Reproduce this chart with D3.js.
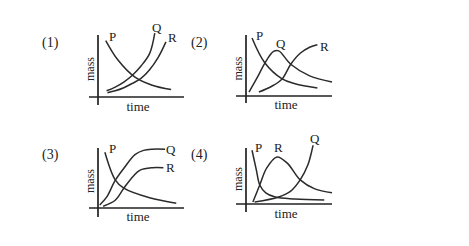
<!DOCTYPE html>
<html>
<head>
<meta charset="utf-8">
<script src="https://cdn.jsdelivr.net/npm/d3@7"></script>
<style>
  body { margin: 0; background: #fff; }
  svg text { font-family: "Liberation Serif", "DejaVu Serif", serif; fill: #222; }
</style>
</head>
<body>
<div id="chart"></div>
<script>
// Values, time (0-10) and mass (0-10) per panel
// Panel (1)
const p1P = [[0.9, 9.1], [2.3, 6.0], [4.3, 3.2], [6.3, 1.9], [8.5, 1.2]];
const p1Q = [[1.0, 1.0], [2.0, 1.6], [3.0, 2.4], [4.0, 3.5], [5.0, 5.0], [6.0, 7.0], [6.6, 10.3]];
const p1R = [[1.1, 0.7], [2.0, 1.0], [3.0, 1.5], [4.0, 2.2], [5.0, 3.0], [6.0, 4.4], [7.0, 6.4], [7.9, 8.9]];
// Panel (2)
const p2P = [[0.7, 9.5], [2.2, 5.4], [4.2, 2.8], [5.7, 2.0], [8.3, 1.3]];
const p2Q = [[0.35, 0.65], [1.3, 3.0], [2.2, 5.4], [3.2, 7.3], [3.8, 7.4], [5.2, 5.2], [7.4, 3.3], [10, 2.3]];
const p2R = [[1.5, 0.65], [3.0, 1.6], [4.2, 2.8], [5.2, 5.2], [6.3, 7.0], [7.4, 8.0], [8.3, 8.4]];
// Panel (3)
const p3P = [[0.8, 9.3], [2.0, 4.7], [3.0, 3.3], [6.0, 1.7], [9.1, 0.8]];
const p3Q = [[0.2, 0.5], [1.0, 1.8], [2.0, 4.6], [3.1, 6.8], [4.3, 8.9], [5.3, 9.6], [6.3, 9.8], [7.8, 9.8]];
const p3R = [[0.6, 0.3], [2.0, 1.3], [3.0, 3.3], [4.1, 5.3], [4.9, 6.3], [6.3, 6.7], [7.6, 6.7]];
// Panel (4)
const p4P = [[0.7, 9.6], [1.2, 6.1], [1.6, 3.4], [2.3, 2.0], [3.4, 1.25], [5.7, 0.9], [9.1, 0.7]];
const p4Q = [[1.0, 0.35], [3.8, 1.25], [5.2, 2.3], [6.3, 4.3], [7.2, 7.0], [7.8, 10.5]];
const p4R = [[0.8, 0.35], [1.6, 3.4], [2.4, 6.4], [3.6, 8.4], [4.8, 7.3], [6.3, 4.3], [8.0, 2.7], [10, 2.0]];

const panelNames = ['(1)', '(2)', '(3)', '(4)'];
const seriesNames = ['P', 'Q', 'R'];
const axisTitles = ['time', 'mass'];

// Layout: axis origin, right end of time axis, top of mass axis, bottom/left overhang
const panels = [
  { name: panelNames[0], series: [p1P, p1Q, p1R], ox: 98, oy: 97, right: 184, top: 35, left: 89, bottom: 105,
    numX: 42, numY: 47, timeY: 111, massX: 90,
    labels: [[109, 41], [152, 32], [168, 42]] },
  { name: panelNames[1], series: [p2P, p2Q, p2R], ox: 246, oy: 96, right: 332, top: 35, left: 236, bottom: 103,
    numX: 191, numY: 47, timeY: 109, massX: 238,
    labels: [[256, 40], [276, 48], [320, 51]] },
  { name: panelNames[2], series: [p3P, p3Q, p3R], ox: 98, oy: 208, right: 184, top: 148, left: 89, bottom: 217,
    numX: 42, numY: 159, timeY: 221, massX: 90,
    labels: [[109, 153], [166, 154], [166, 172]] },
  { name: panelNames[3], series: [p4P, p4Q, p4R], ox: 246, oy: 204, right: 332, top: 148, left: 236, bottom: 212,
    numX: 191, numY: 159, timeY: 218, massX: 238,
    labels: [[255, 152], [310, 143], [274, 152]] }
];

const svg = d3.select('#chart')
  .append('svg')
  .attr('width', 469)
  .attr('height', 246);

panels.forEach(p => {
  const x = d3.scaleLinear().domain([0, 10]).range([p.ox, p.right]);
  const y = d3.scaleLinear().domain([0, 10]).range([p.oy, p.top]);
  const g = svg.append('g');

  // panel number
  g.append('text')
    .attr('x', p.numX)
    .attr('y', p.numY)
    .style('font-size', '14px')
    .text(p.name);

  // axes (plain lines crossing at the origin)
  g.append('line')
    .attr('x1', p.left).attr('x2', p.right)
    .attr('y1', p.oy).attr('y2', p.oy)
    .attr('stroke', '#222').attr('stroke-width', 1.7);
  g.append('line')
    .attr('x1', p.ox).attr('x2', p.ox)
    .attr('y1', p.bottom).attr('y2', p.top)
    .attr('stroke', '#222').attr('stroke-width', 1.7);

  // axis titles
  g.append('text')
    .attr('x', (p.ox + p.right) / 2 - 3)
    .attr('y', p.timeY)
    .attr('text-anchor', 'middle')
    .style('font-size', '13px')
    .text(axisTitles[0]);
  g.append('text')
    .attr('transform', `translate(${p.massX},${(p.oy + p.top) / 2 + 3}) rotate(-90)`)
    .attr('text-anchor', 'middle')
    .attr('dominant-baseline', 'central')
    .style('font-size', '12px')
    .text(axisTitles[1]);

  // curves
  const line = d3.line()
    .x(d => x(d[0]))
    .y(d => y(d[1]))
    .curve(d3.curveCatmullRom.alpha(0.5));

  g.selectAll('path.curve')
    .data(p.series)
    .enter().append('path')
    .attr('class', 'curve')
    .attr('d', line)
    .attr('fill', 'none')
    .attr('stroke', '#2b2b2b')
    .attr('stroke-width', 1.5);

  // series labels
  g.selectAll('text.lab')
    .data(p.labels)
    .enter().append('text')
    .attr('class', 'lab')
    .attr('x', d => d[0])
    .attr('y', d => d[1])
    .style('font-size', '13px')
    .text((d, i) => seriesNames[i]);
});
</script>
</body>
</html>
